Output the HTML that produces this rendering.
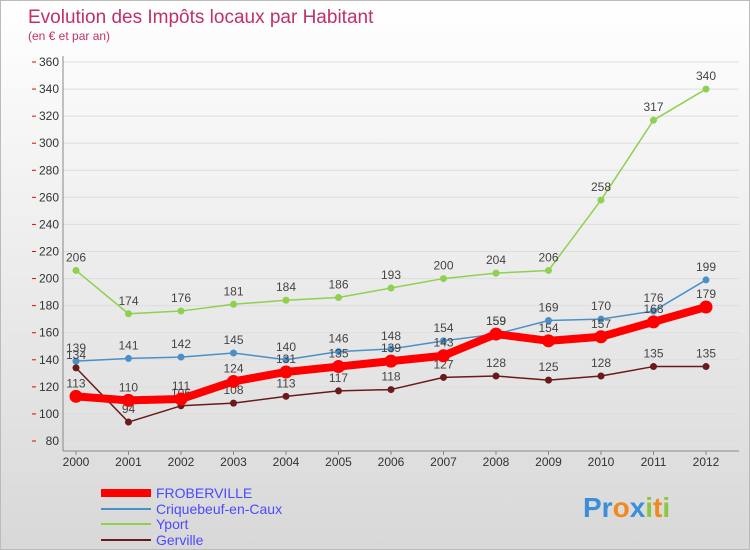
<!DOCTYPE html>
<html><head><meta charset="utf-8"><style>
body{margin:0}
#c{width:750px;height:550px;position:relative;font-family:"Liberation Sans",sans-serif;background:linear-gradient(#ffffff,#d8d8d8);overflow:hidden;border:1px solid #bbb;box-sizing:border-box}
</style></head><body>
<div id="c">
<svg id="s" width="750" height="550" xmlns="http://www.w3.org/2000/svg">
<text x="27" y="22" font-size="19" fill="#c0306a">Evolution des Impôts locaux par Habitant</text>
<text x="27" y="39" font-size="12" fill="#c0306a">(en € et par an)</text>
<g id="axes"></g><g id="series"></g>
<g>
<line x1="100" y1="492" x2="150" y2="492" stroke="#f00" stroke-width="8"/>
<text x="155" y="497" font-size="14" fill="#4a4aff">FROBERVILLE</text>
<line x1="100" y1="508" x2="150" y2="508" stroke="#4a90c8" stroke-width="2"/>
<text x="155" y="513" font-size="14" fill="#4a4aff">Criquebeuf-en-Caux</text>
<line x1="100" y1="523" x2="150" y2="523" stroke="#8fd050" stroke-width="2"/>
<text x="155" y="528" font-size="14" fill="#4a4aff">Yport</text>
<line x1="100" y1="539" x2="150" y2="539" stroke="#6a1a1a" stroke-width="2"/>
<text x="155" y="544" font-size="14" fill="#4a4aff">Gerville</text>
</g>
<text x="582" y="516" font-size="28" font-weight="bold"><tspan fill="#3a8fd8">Pr</tspan><tspan fill="#f08a20">o</tspan><tspan fill="#3a8fd8">x</tspan><tspan fill="#8cc63e">i</tspan><tspan fill="#f08a20">t</tspan><tspan fill="#8cc63e">i</tspan></text>
</svg>
</div>
<script>
const years=[2000,2001,2002,2003,2004,2005,2006,2007,2008,2009,2010,2011,2012];
const yTicks=[80,100,120,140,160,180,200,220,240,260,280,300,320,340,360];
const froberville=[113,110,111,124,131,135,139,143,159,154,157,168,179];
const criquebeuf=[139,141,142,145,140,146,148,154,159,169,170,176,199];
const yport=[206,174,176,181,184,186,193,200,204,206,258,317,340];
const gerville=[134,94,106,108,113,117,118,127,128,125,128,135,135];
const NS="http://www.w3.org/2000/svg";
const X=i=>75+i*52.5, Y=v=>440-(v-80)*(379/280);
function el(t,a,p){const e=document.createElementNS(NS,t);for(const k in a)e.setAttribute(k,a[k]);p.appendChild(e);return e;}
const ax=document.getElementById('axes');
yTicks.forEach(v=>{
 const g=el('line',{x1:62,x2:738,y1:Y(v),y2:Y(v),stroke:'#ddd','stroke-width':1},ax);
 
 const t=el('text',{x:58,y:Y(v)+4,'font-size':12,'text-anchor':'end',fill:'#333'},ax);t.textContent=v;
 
 el('line',{x1:31,x2:35,y1:Y(v),y2:Y(v),stroke:'#e00'},ax);
});
el('line',{x1:62,x2:62,y1:55,y2:450,stroke:'#888'},ax);
el('line',{x1:62,x2:738,y1:450,y2:450,stroke:'#888'},ax);
years.forEach((y,i)=>{
 const t=el('text',{x:X(i),y:465,'font-size':12,'text-anchor':'middle',fill:'#333'},ax);t.textContent=y;
 
 el('line',{x1:X(i),x2:X(i),y1:450,y2:454,stroke:'#888'},ax);
});
const sg=document.getElementById('series');
function series(d,col,w,r,name){
 const g=el('g',{},sg);
 el('polyline',{points:d.map((v,i)=>X(i)+','+Y(v)).join(' '),fill:'none',stroke:col,'stroke-width':w,'stroke-linejoin':'round'},g);
 d.forEach((v,i)=>{
  const c=el('circle',{cx:X(i),cy:Y(v),r:r,fill:col},g);
  
  const t=el('text',{x:X(i),y:Y(v)-9,'font-size':12,'text-anchor':'middle',fill:'#444'},g);t.textContent=v;
 });
}
series(yport,'#8fd050',1.5,3.5,'series-yport');
series(criquebeuf,'#4a90c8',1.5,3.5,'series-criquebeuf');
series(gerville,'#6a1a1a',1.5,3.5,'series-gerville');
series(froberville,'#f00',8,6.5,'series-froberville');
</script>
</body></html>
